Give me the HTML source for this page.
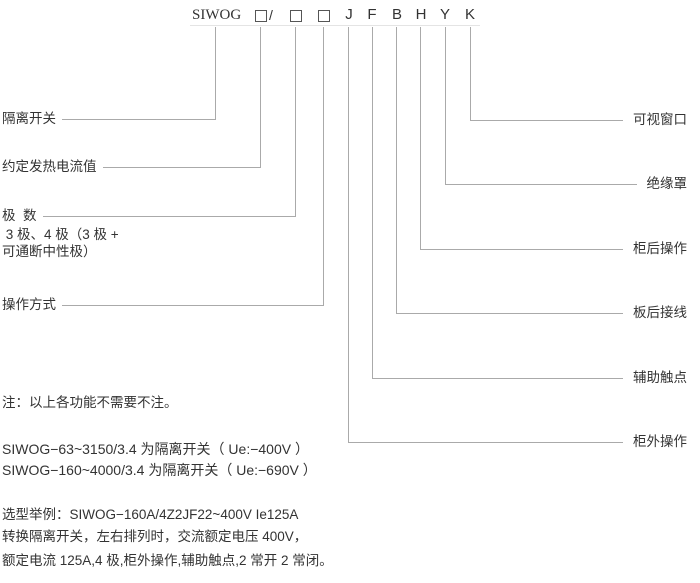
<!DOCTYPE html>
<html><head><meta charset="utf-8"><style>
html,body{margin:0;padding:0;background:#fff;}
body{width:700px;height:583px;position:relative;overflow:hidden;font-family:"Liberation Sans","Noto Sans CJK SC",sans-serif;color:#333;font-size:13.5px;}
.t{position:absolute;white-space:nowrap;line-height:16px;}
.c{transform:translateX(-50%);}
.r{text-align:right;}
.b{position:absolute;width:10px;height:10px;border:1px solid #555;top:10px;}
svg{position:absolute;left:0;top:0;}
</style></head><body>
<svg width="700" height="583"><g stroke="#aaa" stroke-width="1" fill="none">
<polyline points="215.5,27 215.5,119.5 62,119.5"/>
<polyline points="260.5,27 260.5,167.5 103,167.5"/>
<polyline points="295.5,27 295.5,216.5 43,216.5"/>
<polyline points="323.5,27 323.5,305.5 62,305.5"/>
<polyline points="470.5,27 470.5,120.5 623,120.5"/>
<polyline points="445.5,27 445.5,184.5 637,184.5"/>
<polyline points="420.5,27 420.5,249.5 623,249.5"/>
<polyline points="396.5,27 396.5,313.5 623,313.5"/>
<polyline points="372.5,27 372.5,378.5 623,378.5"/>
<polyline points="348.5,27 348.5,442.5 623,442.5"/>
</g>
<g stroke="#e4e4e4"><line x1="190" y1="25.5" x2="480" y2="25.5"/></g>
</svg>
<div class="t" style="left:192px;top:7px;font-family:'Liberation Serif',serif;font-size:15px;">SIWOG</div>
<div class="b" style="left:255px;"></div>
<div class="t" style="left:269px;top:7px;font-size:14px;">/</div>
<div class="b" style="left:290px;"></div>
<div class="b" style="left:318px;"></div>
<div class="t c" style="left:349px;top:7px;font-size:15px;">J</div>
<div class="t c" style="left:372px;top:7px;font-size:15px;">F</div>
<div class="t c" style="left:397px;top:7px;font-size:15px;">B</div>
<div class="t c" style="left:421px;top:7px;font-size:15px;">H</div>
<div class="t c" style="left:445px;top:7px;font-size:15px;">Y</div>
<div class="t c" style="left:470px;top:7px;font-size:15px;">K</div>

<div class="t" style="left:2px;top:111px;">隔离开关</div>
<div class="t" style="left:2px;top:159px;">约定发热电流值</div>
<div class="t" style="left:2px;top:208px;">极&nbsp;&nbsp;数</div>
<div class="t" style="left:2px;top:227px;">&nbsp;3 极、4 极（3 极 +</div>
<div class="t" style="left:2px;top:244px;">可通断中性极）</div>
<div class="t" style="left:2px;top:297px;">操作方式</div>

<div class="t r" style="right:13px;top:112px;">可视窗口</div>
<div class="t r" style="right:13px;top:176px;">绝缘罩</div>
<div class="t r" style="right:13px;top:241px;">柜后操作</div>
<div class="t r" style="right:13px;top:305px;">板后接线</div>
<div class="t r" style="right:13px;top:370px;">辅助触点</div>
<div class="t r" style="right:13px;top:434px;">柜外操作</div>

<div class="t" style="left:2px;top:395px;">注：以上各功能不需要不注。</div>
<div class="t" style="left:2px;top:441px;font-size:14px;">SIWOG−63~3150/3.4 为隔离开关（ Ue:−400V ）</div>
<div class="t" style="left:2px;top:462px;font-size:14px;">SIWOG−160~4000/3.4 为隔离开关（ Ue:−690V ）</div>
<div class="t" style="left:2px;top:507px;font-size:13.5px;">选型举例：SIWOG−160A/4Z2JF22~400V Ie125A</div>
<div class="t" style="left:2px;top:529px;font-size:13.5px;">转换隔离开关，左右排列时，交流额定电压 400V，</div>
<div class="t" style="left:2px;top:553px;font-size:13.5px;">额定电流 125A,4 极,柜外操作,辅助触点,2 常开 2 常闭。</div>
</body></html>
